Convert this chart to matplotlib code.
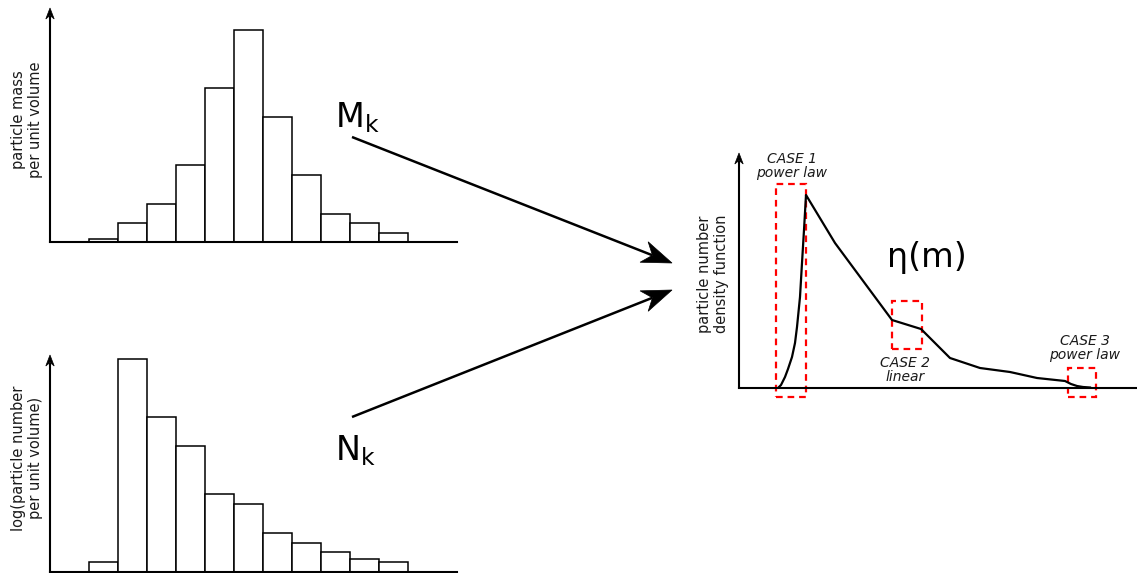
import matplotlib.pyplot as plt
from matplotlib.patches import Rectangle, Polygon
import numpy as np

plt.rcParams['mathtext.fontset'] = 'dejavusans'

W, H = 1137, 573

########################################
#               Data                   #
########################################

# bins k = 0..10 (bar left edges)
bins = np.arange(11)
mass_k = [3, 19, 38, 77, 154, 212, 125, 67, 28, 19, 9]        # M_k
lognum_k = [10, 213, 155, 126, 78, 68, 39, 29, 20, 13, 10]    # log N_k

# eta(m)
m_pts = [39, 42, 46, 49, 53, 56, 58, 61, 63, 65, 67, 96, 153, 182, 211, 241, 271, 298, 326, 332, 338, 344, 351]
eta_pts = [0, 3, 11, 19, 31, 45, 61, 91, 125, 158, 193, 145, 68, 59, 30, 20, 16, 10, 7, 4, 2, 1, 0.5]

# regions marked on eta(m): (m0, m1, y0, y1, label, label x, label y)
cases = [
    (37, 67, -9, 204, "CASE 1\npower law", 792, 166),
    (153, 183, 39, 87, "CASE 2\nlinear", 905, 370),
    (329, 357, -9, 20, "CASE 3\npower law", 1085, 348),
]

########################################
#              Helpers                 #
########################################

fig = plt.figure(figsize=(W / 100, H / 100), dpi=100)

# overlay in pixel coordinates for labels and arrows
ov = fig.add_axes([0, 0, 1, 1], zorder=5)
ov.set_xlim(0, W)
ov.set_ylim(H, 0)
ov.axis('off')


def px_axes(left, right, bottom, top):
    return fig.add_axes([left / W, 1 - bottom / H, (right - left) / W, (bottom - top) / H])


def arrow(p0, p1, length, half_w, notch, lw=1.5):
    """line p0 -> p1 with a swept-back head, in overlay pixels"""
    p0, p1 = np.array(p0, float), np.array(p1, float)
    d = (p1 - p0) / np.hypot(*(p1 - p0))
    n = np.array([-d[1], d[0]])
    back = p1 - d * (length - notch)
    ov.plot([p0[0], back[0]], [p0[1], back[1]], color='black', lw=lw,
            solid_capstyle='butt')
    head = [p1, p1 - d * length + n * half_w, back, p1 - d * length - n * half_w]
    ov.add_patch(Polygon(head, closed=True, facecolor='black', edgecolor='black', lw=0.5))


def sketch_axes(ax, left, bottom, top):
    for s in ['top', 'right', 'left']:
        ax.spines[s].set_visible(False)
    ax.spines['bottom'].set_linewidth(1.5)
    ax.set_xticks([])
    ax.set_yticks([])
    ax.patch.set_alpha(0)
    arrow((left, bottom + 1), (left, top), 11, 4.2, 3.5)


def histogram(heights, left, right, bottom, top):
    ax = px_axes(left, right, bottom, top)
    ax.bar(bins, heights, width=1, align='edge', facecolor='white',
           edgecolor='black', lw=1.1)
    ax.set_xlim(-1.345, 12.69)
    ax.set_ylim(0, bottom - top)
    sketch_axes(ax, left, bottom, top)
    return ax


########################################
#              Panels                  #
########################################

ax_m = histogram(mass_k, 50, 457, 242, 8)
ax_n = histogram(lognum_k, 50, 457, 572, 355)

ax_eta = px_axes(739, 1137, 388, 153)
ax_eta.plot(m_pts, eta_pts, color='black', lw=1.6, solid_joinstyle='round')
ax_eta.set_xlim(0, 398)
ax_eta.set_ylim(0, 235)
sketch_axes(ax_eta, 739, 388, 153)

for m0, m1, y0, y1, label, lx, ly in cases:
    ax_eta.add_patch(Rectangle((m0, y0), m1 - m0, y1 - y0, fill=False,
                               edgecolor='#ff0000', lw=1.6,
                               linestyle=(0, (3, 2.2)), clip_on=False))
    ov.text(lx, ly, label, ha='center', va='center', fontsize=10,
            style='italic', linespacing=1.0, color='#1a1a1a')

ov.text(27, 120, "particle mass\nper unit volume", rotation=90,
        ha='center', va='center', fontsize=10.5, color='#1a1a1a')
ov.text(27, 458, "log(particle number\nper unit volume)", rotation=90,
        ha='center', va='center', fontsize=10.5, color='#1a1a1a')
ov.text(713, 274, "particle number\ndensity function", rotation=90,
        ha='center', va='center', fontsize=10.5, color='#1a1a1a')

ov.text(335, 127, r'$\mathregular{M_k}$', fontsize=24, va='baseline', ha='left')
ov.text(335, 460, r'$\mathregular{N_k}$', fontsize=24, va='baseline', ha='left')
ov.text(887, 267, 'η(m)', fontsize=24, va='baseline', ha='left')

arrow((352, 137), (672, 263), 30, 11, 9, lw=1.8)
arrow((352, 417), (672, 290), 30, 11, 9, lw=1.8)

fig.savefig('out.png', dpi=100, facecolor='white')
